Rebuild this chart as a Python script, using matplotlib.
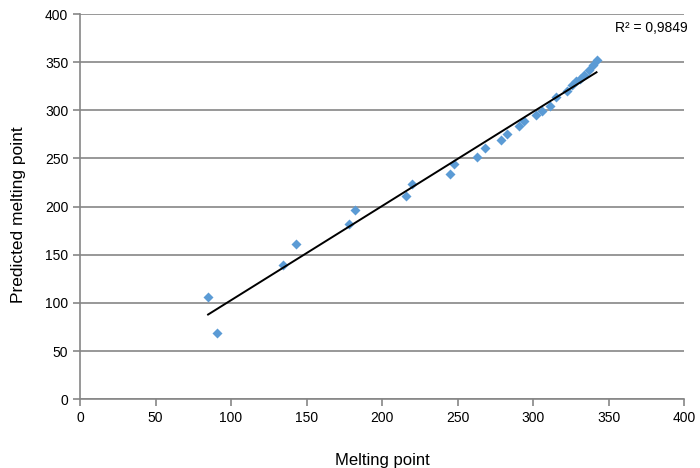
import numpy as np
import matplotlib.pyplot as plt

melting = [84.8, 90.7, 134.4, 143, 178, 182, 216, 220, 245, 247.7, 263, 268,
           279, 283, 291, 294, 302, 306, 311, 315, 322.5, 326, 328.5, 331,
           334, 337, 340, 342]
predicted = [106, 68.6, 139, 161, 182, 196, 211, 223, 234, 244, 252, 261,
             269, 275, 284, 289, 295, 299, 305, 314, 320, 326, 330, 333,
             337, 342, 347, 352]
r2_label = "R² = 0,9849"

plt.rcParams['font.family'] = ['Liberation Sans', 'DejaVu Sans']

f = plt.figure(figsize=(7, 4.68), dpi=100)
ax = f.add_axes([0.1143, 0.147, 0.863, 0.823])

ax.scatter(melting, predicted, marker='D', s=26, color='#5B9BD5', zorder=3, linewidths=0)

k, b = np.polyfit(melting, predicted, 1)
xs = np.array([min(melting), max(melting)])
ax.plot(xs, k * xs + b, color='black', lw=1.4, zorder=4)

ax.set_xlim(0, 400)
ax.set_ylim(0, 400)
ax.set_xticks(np.arange(0, 401, 50))
ax.set_yticks(np.arange(0, 401, 50))
ax.yaxis.grid(True, color='#868686', lw=1.2)
ax.set_axisbelow(True)
for s in ['top', 'right']:
    ax.spines[s].set_visible(False)
for s in ['left', 'bottom']:
    ax.spines[s].set_color('#868686')
    ax.spines[s].set_linewidth(1.2)
ax.tick_params(axis='both', colors='#868686', labelcolor='black', labelsize=10, length=5, width=1.2)
ax.set_xlabel("Melting point", fontsize=12, labelpad=20)
ax.set_ylabel("Predicted melting point", fontsize=12.5, labelpad=6)
ax.yaxis.set_label_coords(-0.09, 0.48)
ax.text(354, 385, r2_label, fontsize=10, ha='left', va='center')

f.savefig("out.png", dpi=100)
